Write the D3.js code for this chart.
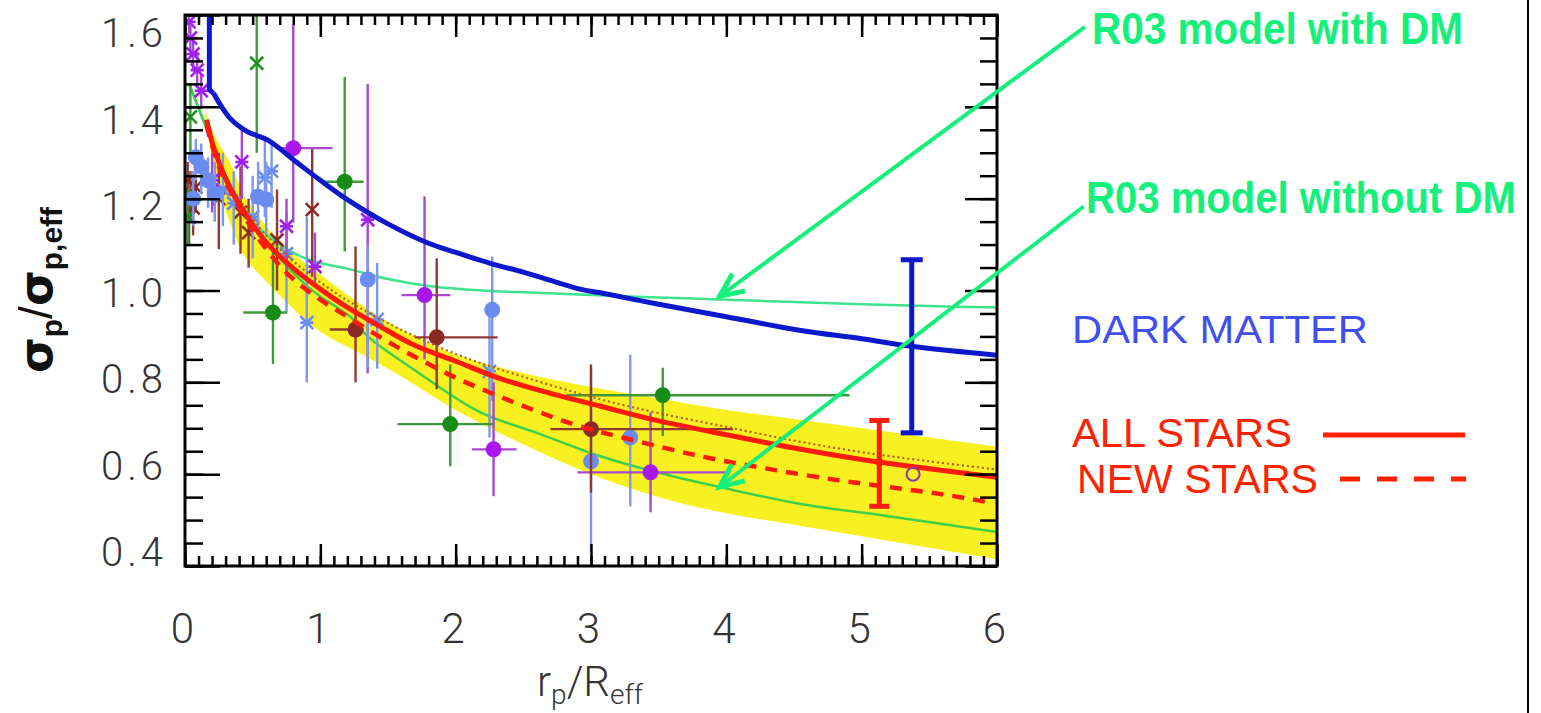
<!DOCTYPE html>
<html><head><meta charset="utf-8">
<script src="https://cdn.jsdelivr.net/npm/d3@7"></script>
<style>
html,body{margin:0;padding:0;background:#fff;}
svg{display:block;}
</style></head>
<body>
<div id="chart"></div>
<script>
// ---------------- DATA ----------------
const xTicks = [0, 1, 2, 3, 4, 5, 6];
const yTicks = [0.4, 0.6, 0.8, 1.0, 1.2, 1.4, 1.6];
const yTickLabels = ["0.4", "0.6", "0.8", "1.0", "1.2", "1.4", "1.6"];

// DARK MATTER model curve
const dmX = [0.18, 0.18, 0.21, 0.33, 0.46, 0.61, 0.83, 1.0, 1.2, 1.5, 1.79, 2.0, 2.28, 2.5, 2.92, 3.07, 3.5, 4.0, 4.55, 5.0, 5.38, 6.0];
const dmY = [1.62, 1.437, 1.43, 1.376, 1.346, 1.328, 1.278, 1.24, 1.198, 1.145, 1.104, 1.083, 1.057, 1.04, 1.003, 0.995, 0.97, 0.943, 0.913, 0.895, 0.878, 0.859];

// ALL STARS (solid red)
const allX = [0.16, 0.21, 0.33, 0.45, 0.6, 0.8, 1.0, 1.2, 1.44, 1.7, 2.0, 2.33, 2.7, 3.07, 3.5, 4.0, 4.5, 5.0, 5.5, 6.0];
const allY = [1.372, 1.313, 1.225, 1.165, 1.105, 1.048, 1.003, 0.963, 0.922, 0.88, 0.846, 0.808, 0.776, 0.748, 0.716, 0.686, 0.657, 0.632, 0.612, 0.593];

// NEW STARS (dashed red)
const newX = [0.16, 0.25, 0.41, 0.6, 0.78, 1.0, 1.2, 1.45, 1.69, 2.0, 2.3, 2.6, 2.92, 3.3, 3.81, 4.3, 4.8, 5.2, 5.6, 5.95];
const newY = [1.36, 1.27, 1.176, 1.09, 1.03, 0.98, 0.943, 0.897, 0.857, 0.81, 0.772, 0.737, 0.704, 0.675, 0.639, 0.612, 0.588, 0.572, 0.556, 0.538];

// dotted curve just above the solid one
const dotX = [0.3, 0.6, 1.0, 1.44, 2.0, 2.5, 3.07, 3.5, 4.0, 4.5, 5.0, 5.5, 6.0];
const dotY = [1.245, 1.12, 1.018, 0.938, 0.862, 0.812, 0.763, 0.733, 0.703, 0.673, 0.648, 0.628, 0.61];

// yellow band
const bandX = [0.15, 0.2, 0.25, 0.33, 0.45, 0.6, 0.8, 1.0, 1.3, 1.6, 2.0, 2.5, 3.0, 3.5, 4.0, 4.5, 5.0, 5.5, 6.0];
const bandUp = [1.395, 1.35, 1.32, 1.28, 1.2, 1.14, 1.08, 1.035, 0.97, 0.915, 0.86, 0.82, 0.79, 0.765, 0.74, 0.72, 0.70, 0.68, 0.66];
const bandLo = [1.37, 1.29, 1.22, 1.15, 1.07, 1.02, 0.96, 0.91, 0.862, 0.812, 0.74, 0.665, 0.60, 0.55, 0.515, 0.49, 0.465, 0.44, 0.415];

// R03 model with DM
const withDmX = [0.03, 0.15, 0.3, 0.5, 0.7, 0.85, 1.0, 1.22, 1.5, 1.8, 2.2, 2.6, 3.0, 3.5, 4.0, 4.5, 5.0, 5.5, 6.0];
const withDmY = [1.45, 1.36, 1.25, 1.15, 1.1, 1.075, 1.06, 1.046, 1.025, 1.01, 1.0, 0.995, 0.99, 0.985, 0.98, 0.975, 0.97, 0.966, 0.963];

// R03 model without DM
const noDmX = [0.03, 0.15, 0.3, 0.5, 0.7, 0.9, 1.0, 1.22, 1.35, 1.69, 2.18, 2.6, 3.07, 3.5, 3.95, 4.55, 5.16, 6.0];
const noDmY = [1.45, 1.36, 1.25, 1.15, 1.07, 1.01, 0.987, 0.943, 0.90, 0.828, 0.735, 0.69, 0.639, 0.603, 0.572, 0.535, 0.51, 0.474];

// observed points: [x, y, yLow, yHigh, xLow, xHigh]
const greenCircles = [
  [1.18, 1.237, 1.085, 1.465, 1.03, 1.32],
  [0.65, 0.952, 0.84, 1.10, 0.43, 0.75],
  [1.96, 0.709, 0.617, 0.839, 1.57, 2.29],
  [3.53, 0.772, 0.683, 0.832, 2.82, 4.91]
];
const purpleCircles = [
  [0.80, 1.31, 1.148, 1.58, 0.68, 1.09],
  [1.77, 0.99, 0.85, 1.205, 1.60, 1.96],
  [2.28, 0.654, 0.552, 0.80, 2.12, 2.45],
  [3.44, 0.604, 0.517, 0.735, 2.90, 4.03]
];
const brownCircles = [
  [1.86, 0.898, 0.785, 1.07, 1.70, 2.31],
  [3.00, 0.698, 0.56, 0.839, 2.70, 4.05],
  [1.26, 0.915, 0.80, 1.096, 1.07, 1.32]
];
const blueCircles = [
  [1.35, 1.024, 0.83, 1.10, 1.35, 1.35],
  [2.27, 0.958, 0.76, 1.074, 2.27, 2.27],
  [3.00, 0.628, 0.43, 0.83, 3.00, 3.00],
  [3.29, 0.68, 0.53, 0.86, 3.29, 3.29],
  [0.54, 1.204, 1.12, 1.28, 0.54, 0.54],
  [0.60, 1.198, 1.12, 1.28, 0.60, 0.60],
  [0.08, 1.29, 1.24, 1.33, 0.08, 0.08],
  [0.12, 1.27, 1.21, 1.32, 0.12, 0.12],
  [0.17, 1.24, 1.18, 1.29, 0.17, 0.17],
  [0.22, 1.21, 1.15, 1.28, 0.22, 0.22],
  [0.06, 1.20, 1.14, 1.26, 0.06, 0.06]
];
// [x, y, yLow, yHigh]
const greenCrosses = [
  [0.53, 1.495, 1.30, 1.62],
  [0.04, 1.378, 1.30, 1.45],
  [0.02, 1.16, 1.10, 1.22]
];
const brownCrosses = [
  [0.94, 1.176, 1.03, 1.31],
  [0.47, 1.126, 1.05, 1.20],
  [0.68, 1.11, 1.00, 1.22],
  [0.02, 1.24, 1.20, 1.28],
  [0.04, 1.21, 1.16, 1.26],
  [0.06, 1.18, 1.12, 1.24],
  [0.03, 1.16, 1.10, 1.21],
  [0.08, 1.225, 1.17, 1.27],
  [0.25, 1.20, 1.09, 1.30],
  [0.41, 1.17, 1.08, 1.27]
];
const purpleStars = [
  [0.03, 1.585, 1.56, 1.62],
  [0.04, 1.55, 1.52, 1.58],
  [0.06, 1.515, 1.48, 1.55],
  [0.09, 1.48, 1.45, 1.52],
  [0.12, 1.435, 1.40, 1.47],
  [0.42, 1.28, 1.20, 1.35],
  [0.75, 1.14, 1.03, 1.20],
  [0.96, 1.052, 1.01, 1.126],
  [1.35, 1.154, 0.82, 1.45],
  [0.20, 1.24, 1.17, 1.30]
];
const blueStars = [
  [0.28, 1.22, 1.14, 1.30],
  [0.36, 1.19, 1.10, 1.26],
  [0.50, 1.16, 1.07, 1.25],
  [0.59, 1.246, 1.16, 1.33],
  [0.64, 1.26, 1.18, 1.32],
  [0.90, 0.93, 0.80, 1.16],
  [1.42, 0.937, 0.83, 1.06],
  [2.25, 0.824, 0.68, 0.96],
  [0.75, 1.08, 0.95, 1.17]
];
// simulation error bars: [x, y, yLow, yHigh]
const dmBar = [5.37, 0.878, 0.69, 1.067];
const starBar = [5.13, 0.626, 0.53, 0.717];
const openCircle = [5.38, 0.60];

// ---------------- CHART ----------------
const W = 1541, H = 713;
const x = d3.scaleLinear().domain([0, 6]).range([185, 997]);
const y = d3.scaleLinear().domain([0.4, 1.6]).range([566, 15]);
const yLab = d3.scaleLinear().domain([0.4, 1.6]).range([552, 33]);

const svg = d3.select("#chart").append("svg").attr("width", W).attr("height", H)
  .style("background", "#fff");

svg.append("defs").append("clipPath").attr("id", "clip")
  .append("rect").attr("x", x(0)).attr("y", y(1.6)).attr("width", x(6) - x(0)).attr("height", y(0.4) - y(1.6));

const plot = svg.append("g").attr("clip-path", "url(#clip)");

const zip = (xs, ys) => xs.map((v, i) => [v, ys[i]]);
const line = d3.line().x(d => x(d[0])).y(d => y(d[1])).curve(d3.curveCatmullRom.alpha(0.5));
const lineStraight = d3.line().x(d => x(d[0])).y(d => y(d[1]));

// yellow band
plot.append("path")
  .datum(bandX.map((v, i) => [v, bandLo[i], bandUp[i]]))
  .attr("d", d3.area().x(d => x(d[0])).y0(d => y(d[1])).y1(d => y(d[2])).curve(d3.curveCatmullRom.alpha(0.5)))
  .attr("fill", "#f8f020");

// model curves
plot.append("path").datum(zip(withDmX, withDmY)).attr("d", line)
  .attr("fill", "none").attr("stroke", "#3ee38e").attr("stroke-width", 2.5);
plot.append("path").datum(zip(noDmX, noDmY)).attr("d", line)
  .attr("fill", "none").attr("stroke", "#3fd04a").attr("stroke-width", 2.5);

// error bars and markers
function errorGroup(data, color, barColor, kind) {
  const g = plot.append("g");
  data.forEach(d => {
    g.append("line").attr("x1", x(d[0])).attr("x2", x(d[0])).attr("y1", y(d[2])).attr("y2", y(d[3]))
      .attr("stroke", barColor).attr("stroke-width", 2.4);
    if (d.length > 4 && d[4] !== d[5]) {
      g.append("line").attr("x1", x(d[4])).attr("x2", x(d[5])).attr("y1", y(d[1])).attr("y2", y(d[1]))
        .attr("stroke", barColor).attr("stroke-width", 2.4);
    }
  });
  data.forEach(d => {
    const cx = x(d[0]), cy = y(d[1]);
    if (kind === "circle") {
      g.append("circle").attr("cx", cx).attr("cy", cy).attr("r", 8).attr("fill", color);
    } else {
      const s = 6.5;
      const p = d3.path();
      p.moveTo(cx - s, cy - s); p.lineTo(cx + s, cy + s);
      p.moveTo(cx - s, cy + s); p.lineTo(cx + s, cy - s);
      if (kind === "star") { p.moveTo(cx - s, cy); p.lineTo(cx + s, cy); }
      g.append("path").attr("d", p.toString()).attr("stroke", color).attr("stroke-width", 2.6).attr("fill", "none");
    }
  });
}
errorGroup(brownCrosses, "#8b2a22", "#8f3a30", "cross");
errorGroup(greenCrosses, "#1f8f1f", "#3c9a3c", "cross");
errorGroup(blueStars, "#6a8cf0", "#7c98ee", "star");
errorGroup(purpleStars, "#a020f0", "#a848d0", "star");
errorGroup(blueCircles, "#6a8cf0", "#7c98ee", "circle");
errorGroup(greenCircles, "#178c17", "#3c9a3c", "circle");
errorGroup(purpleCircles, "#a818ee", "#a848d0", "circle");
errorGroup(brownCircles, "#8b2a22", "#8f3a30", "circle");

// star curves
plot.append("path").datum(zip(dotX, dotY)).attr("d", line)
  .attr("fill", "none").attr("stroke", "#b8600a").attr("stroke-width", 2.2).attr("stroke-dasharray", "2,3");
plot.append("path").datum(zip(newX, newY)).attr("d", line)
  .attr("fill", "none").attr("stroke", "#ff1a0a").attr("stroke-width", 4.5).attr("stroke-dasharray", "12,9");
plot.append("path").datum(zip(allX, allY)).attr("d", line)
  .attr("fill", "none").attr("stroke", "#ff1a0a").attr("stroke-width", 5);
// dark matter: straight initial drop, then smooth curve
const dmPts = zip(dmX, dmY);
plot.append("path").datum(dmPts.slice(0, 3)).attr("d", lineStraight)
  .attr("fill", "none").attr("stroke", "#0c18cc").attr("stroke-width", 5).attr("stroke-linejoin", "round");
plot.append("path").datum(dmPts.slice(2)).attr("d", line)
  .attr("fill", "none").attr("stroke", "#0c18cc").attr("stroke-width", 5).attr("stroke-linejoin", "round");

// simulation error bars
function capBar(d, color, w, cap) {
  const g = plot.append("g").attr("stroke", color).attr("stroke-width", w);
  g.append("line").attr("x1", x(d[0])).attr("x2", x(d[0])).attr("y1", y(d[2])).attr("y2", y(d[3]));
  [d[2], d[3]].forEach(v => g.append("line").attr("x1", x(d[0]) - cap).attr("x2", x(d[0]) + cap)
    .attr("y1", y(v)).attr("y2", y(v)));
}
capBar(dmBar, "#0c18cc", 5, 11);
capBar(starBar, "#ff1a0a", 5, 10);
plot.append("circle").attr("cx", x(starBar[0])).attr("cy", y(starBar[1])).attr("r", 4).attr("fill", "#ff1a0a");
plot.append("circle").attr("cx", x(openCircle[0])).attr("cy", y(openCircle[1])).attr("r", 6.5)
  .attr("fill", "none").attr("stroke", "#8a3aa8").attr("stroke-width", 2);

// ---------------- AXES ----------------
function styleAxis(g) {
  g.select(".domain").remove();
  g.selectAll(".tick line").attr("stroke", "#000").attr("stroke-width", 2.5);
  g.selectAll(".tick text").remove();
}
const minorX = d3.range(0, 61).map(i => i / 10);
const minorY = d3.range(0, 25).map(i => 0.4 + i * 0.05);
svg.append("g").attr("transform", `translate(0,${y(0.4)})`).call(d3.axisBottom(x).tickValues(minorX).tickSize(-10)).call(styleAxis);
svg.append("g").attr("transform", `translate(0,${y(0.4)})`).call(d3.axisBottom(x).tickValues(xTicks).tickSize(-22)).call(styleAxis);
svg.append("g").attr("transform", `translate(0,${y(1.6)})`).call(d3.axisTop(x).tickValues(minorX).tickSize(-10)).call(styleAxis);
svg.append("g").attr("transform", `translate(0,${y(1.6)})`).call(d3.axisTop(x).tickValues(xTicks).tickSize(-22)).call(styleAxis);
svg.append("g").attr("transform", `translate(${x(0)},0)`).call(d3.axisLeft(y).tickValues(minorY).tickSize(-18)).call(styleAxis);
svg.append("g").attr("transform", `translate(${x(0)},0)`).call(d3.axisLeft(y).tickValues(yTicks).tickSize(-35)).call(styleAxis);
svg.append("g").attr("transform", `translate(${x(6)},0)`).call(d3.axisRight(y).tickValues(minorY).tickSize(-17)).call(styleAxis);
svg.append("g").attr("transform", `translate(${x(6)},0)`).call(d3.axisRight(y).tickValues(yTicks).tickSize(-32)).call(styleAxis);

svg.append("rect").attr("x", x(0)).attr("y", y(1.6)).attr("width", x(6) - x(0)).attr("height", y(0.4) - y(1.6))
  .attr("fill", "none").attr("stroke", "#000").attr("stroke-width", 3);

// tick labels
const tickFont = "Roboto, 'Liberation Sans', Arial, sans-serif";
svg.append("g").selectAll("text").data(xTicks).join("text")
  .attr("x", d => x(d) - 2).attr("y", 643).attr("text-anchor", "middle")
  .attr("font-family", tickFont).attr("font-weight", 300).attr("font-size", 42).attr("letter-spacing", 1).attr("fill", "#333")
  .text(d => d);
svg.append("g").selectAll("text").data(yTicks).join("text")
  .attr("x", 167).attr("y", d => yLab(d) + 14).attr("text-anchor", "end")
  .attr("font-family", tickFont).attr("font-weight", 300).attr("font-size", 40).attr("letter-spacing", 4).attr("fill", "#333")
  .text((d, i) => yTickLabels[i]);

// axis titles
const xt = svg.append("text").attr("x", 590).attr("y", 696).attr("text-anchor", "middle")
  .attr("font-family", tickFont).attr("font-weight", 300).attr("font-size", 42).attr("fill", "#333");
xt.append("tspan").text("r");
xt.append("tspan").attr("font-size", 28).attr("dy", 8).text("p");
xt.append("tspan").attr("dy", -8).text("/R");
xt.append("tspan").attr("font-size", 28).attr("dy", 8).text("eff");

const yt = svg.append("text").attr("transform", "translate(52,290) rotate(-90)").attr("text-anchor", "middle")
  .attr("font-family", "'Liberation Sans', Arial, sans-serif").attr("font-size", 46).attr("fill", "#111");
yt.append("tspan").attr("font-weight", "bold").attr("font-family", "'DejaVu Sans', sans-serif").text("σ");
yt.append("tspan").attr("font-size", 30).attr("dy", 10).attr("font-weight", "bold").text("p");
yt.append("tspan").attr("dy", -10).text("/");
yt.append("tspan").attr("font-weight", "bold").attr("font-family", "'DejaVu Sans', sans-serif").text("σ");
yt.append("tspan").attr("font-size", 30).attr("dy", 10).attr("font-weight", "bold").text("p,eff");

// ---------------- ANNOTATIONS ----------------
const green = "#14f07c";
const arrows = [
  {from: [6.65, 1.574], to: [3.95, 0.987]},
  {from: [6.64, 1.183], to: [3.95, 0.572]}
];
arrows.forEach(a => {
  const x1 = x(a.from[0]), y1 = y(a.from[1]), x2 = x(a.to[0]), y2 = y(a.to[1]);
  svg.append("line").attr("x1", x1).attr("y1", y1).attr("x2", x2).attr("y2", y2)
    .attr("stroke", green).attr("stroke-width", 4);
  const ang = Math.atan2(y1 - y2, x1 - x2), L = 26, spread = 0.42;
  const p = d3.path();
  p.moveTo(x2 + L * Math.cos(ang + spread), y2 + L * Math.sin(ang + spread));
  p.lineTo(x2, y2);
  p.lineTo(x2 + L * Math.cos(ang - spread), y2 + L * Math.sin(ang - spread));
  svg.append("path").attr("d", p.toString()).attr("fill", "none").attr("stroke", green)
    .attr("stroke-width", 5).attr("stroke-linejoin", "miter");
});

// annotation text squeezed horizontally to a target width via a scale transform
function fitText(txt, px, py, width, size, color, bold) {
  const t = svg.append("text").attr("x", 0).attr("y", 0)
    .attr("font-family", "'Liberation Sans',Arial,sans-serif")
    .attr("font-weight", bold ? "bold" : "normal").attr("font-size", size).attr("fill", color).text(txt);
  const natural = t.node().getComputedTextLength();
  t.attr("transform", `translate(${px},${py}) scale(${width / natural},1)`);
  return t;
}
fitText("R03 model with DM", 1092, 44, 371, 44, green, true);
fitText("R03 model without DM", 1086, 213, 430, 44, green, true);
fitText("DARK MATTER", 1072, 343, 296, 39, "#3f4ff0", false);
fitText("ALL STARS", 1072, 447, 220, 40, "#ff2200", false);
fitText("NEW STARS", 1077, 493, 241, 40, "#ff2200", false);

svg.append("line").attr("x1", 1323).attr("x2", 1465).attr("y1", 435).attr("y2", 435)
  .attr("stroke", "#ff2200").attr("stroke-width", 5);
svg.append("line").attr("x1", 1340).attr("x2", 1466).attr("y1", 479).attr("y2", 479)
  .attr("stroke", "#ff2200").attr("stroke-width", 5).attr("stroke-dasharray", "20,17");

// right border line
svg.append("line").attr("x1", 1528).attr("x2", 1528).attr("y1", 0).attr("y2", H)
  .attr("stroke", "#000").attr("stroke-width", 2);
</script>
</body></html>
